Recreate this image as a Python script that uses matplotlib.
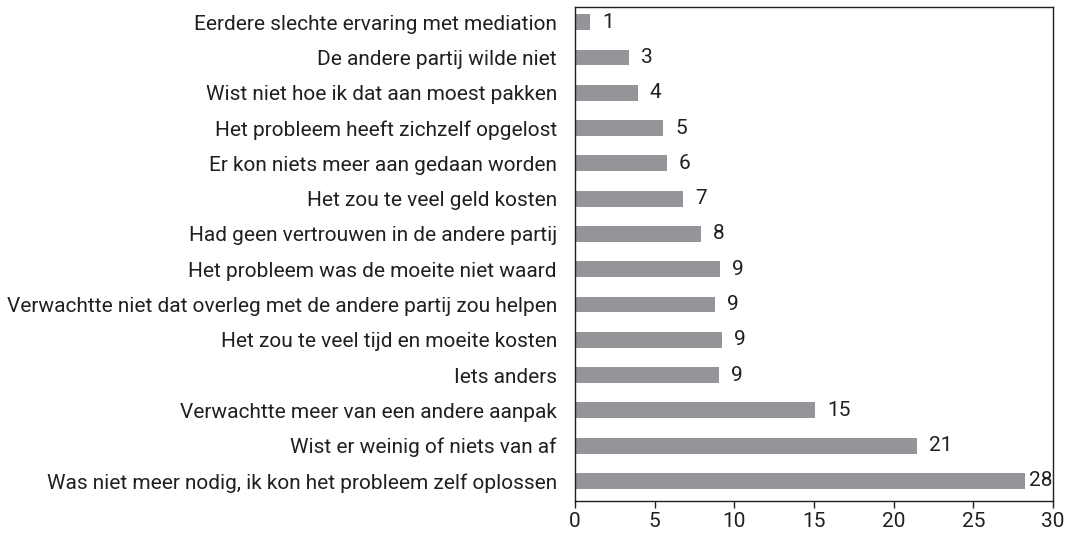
import matplotlib
matplotlib.use("Agg")
import matplotlib.pyplot as plt

categories = [
    "Eerdere slechte ervaring met mediation",
    "De andere partij wilde niet",
    "Wist niet hoe ik dat aan moest pakken",
    "Het probleem heeft zichzelf opgelost",
    "Er kon niets meer aan gedaan worden",
    "Het zou te veel geld kosten",
    "Had geen vertrouwen in de andere partij",
    "Het probleem was de moeite niet waard",
    "Verwachtte niet dat overleg met de andere partij zou helpen",
    "Het zou te veel tijd en moeite kosten",
    "Iets anders",
    "Verwachtte meer van een andere aanpak",
    "Wist er weinig of niets van af",
    "Was niet meer nodig, ik kon het probleem zelf oplossen",
]
values = [0.94, 3.39, 3.95, 5.52, 5.77, 6.78, 7.90, 9.10, 8.78, 9.22, 9.03, 15.06, 21.46, 28.23]
value_labels = ["1", "3", "4", "5", "6", "7", "8", "9", "9", "9", "9", "15", "21", "28"]
xticks = [0, 5, 10, 15, 20, 25, 30]

plt.rcParams['font.family'] = ['Roboto', 'DejaVu Sans']

fig = plt.figure(figsize=(10.72, 5.33), dpi=100)
ax = fig.add_axes([0.5364, 0.060, 0.9823 - 0.5364, 0.9869 - 0.060])

y = list(range(len(categories)))
ax.barh(y, values, height=0.45, color='#939598')
ax.set_ylim(len(categories) - 1 + 0.57, -0.43)
ax.set_xlim(0, 30)
ax.set_yticks(y)
ax.set_yticklabels(categories, fontsize=15, color='#231f20')
ax.set_xticks(xticks)
ax.set_xticklabels([str(t) for t in xticks], fontsize=15, color='#231f20')
ax.tick_params(axis='y', length=0, pad=13)
ax.tick_params(axis='x', length=5, width=1, direction='out', color='#231f20', pad=3)
for s in ax.spines.values():
    s.set_color('#231f20')
    s.set_linewidth(1.0)

for yi, v, lab in zip(y, values, value_labels):
    off = 12 if v < 27 else 4
    ax.annotate(lab, xy=(v, yi), xytext=(off, 0), textcoords='offset pixels',
                ha='left', va='center', fontsize=15, color='#231f20')

fig.savefig("out.png", dpi=100)
